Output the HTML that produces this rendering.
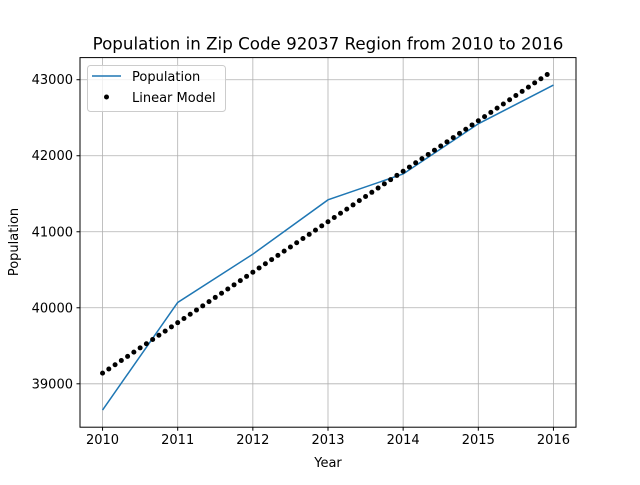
<!DOCTYPE html>
<html><head><meta charset="utf-8"><style>
body{margin:0;background:#fff;}
svg text{font-family:"DejaVu Sans","Liberation Sans",sans-serif;}
</style></head><body>
<svg id="chart" width="640" height="480" xmlns="http://www.w3.org/2000/svg">
<rect width="640" height="480" fill="#fff"/>
<g id="grid"></g>
<g id="marks"></g>
<rect x="80" y="57.6" width="496" height="369.6" fill="none" stroke="#000" stroke-width="1"/>
<g id="ticks"></g>
<text x="328" y="49.5" text-anchor="middle" font-size="16.7">Population in Zip Code 92037 Region from 2010 to 2016</text>
<text x="328" y="467" text-anchor="middle" font-size="13">Year</text>
<text x="18" y="242" text-anchor="middle" font-size="13" transform="rotate(-90 18 242)">Population</text>
<g>
<rect x="87.5" y="65.5" width="138" height="46" rx="3" fill="#fff" fill-opacity="0.8" stroke="#ccc"/>
<line x1="92" y1="76" x2="121" y2="76" stroke="#1f77b4" stroke-width="1.5"/>
<text x="132" y="81" font-size="13">Population</text>
<circle cx="106.5" cy="97" r="2.5" fill="#000"/>
<text x="132" y="102" font-size="13">Linear Model</text>
</g>
</svg>
<script>
const years=[2010,2011,2012,2013,2014,2015,2016];
const population=[38655,40070,40705,41420,41760,42420,42930];
const modelValues=[39140,39195,39251,39306,39361,39417,39472,39527,39583,39638,39693,39749,
39804,39859,39915,39970,40025,40081,40136,40191,40247,40302,40357,40413,
40468,40523,40579,40634,40689,40745,40800,40855,40911,40966,41021,41077,
41132,41187,41243,41298,41353,41409,41464,41519,41575,41630,41685,41741,
41796,41851,41907,41962,42017,42073,42128,42183,42239,42294,42349,42405,
42460,42515,42571,42626,42681,42737,42792,42847,42903,42958,43013,43069];
const xTicks=[2010,2011,2012,2013,2014,2015,2016];
const yTicks=[39000,40000,41000,42000,43000];
const X0=80,X1=576,Y0=427.2,Y1=57.6,xmin=2009.7,xmax=2016.3,ymin=38429,ymax=43291;
const sx=v=>X0+(v-xmin)/(xmax-xmin)*(X1-X0);
const sy=v=>Y0-(v-ymin)/(ymax-ymin)*(Y0-Y1);
const NS="http://www.w3.org/2000/svg";
function mk(p,t,a){const e=document.createElementNS(NS,t);for(const k in a)e.setAttribute(k,a[k]);p.appendChild(e);return e;}
const grid=document.getElementById('grid'),ticks=document.getElementById('ticks'),marks=document.getElementById('marks');
xTicks.forEach(t=>{const x=sx(t);
 const g=mk(grid,'line',{x1:x,x2:x,y1:Y1,y2:Y0,stroke:'#b0b0b0','stroke-width':0.8});
 
 
 mk(ticks,'line',{x1:x,x2:x,y1:Y0,y2:Y0+3.5,stroke:'#000'});
 const tx=mk(ticks,'text',{x:x,y:Y0+17,'text-anchor':'middle','font-size':13});tx.textContent=t;
 
 
});
yTicks.forEach(t=>{const y=sy(t);
 const g=mk(grid,'line',{x1:X0,x2:X1,y1:y,y2:y,stroke:'#b0b0b0','stroke-width':0.8});
 
 
 mk(ticks,'line',{x1:X0-3.5,x2:X0,y1:y,y2:y,stroke:'#000'});
 const tx=mk(ticks,'text',{x:X0-7,y:y+4.5,'text-anchor':'end','font-size':13});tx.textContent=t;
 
 
});
const pl=mk(marks,'polyline',{points:years.map((y,i)=>sx(y)+','+sy(population[i])).join(' '),fill:'none',stroke:'#1f77b4','stroke-width':1.5});


modelValues.forEach((v,i)=>{
 const c=mk(marks,'circle',{cx:sx(years[0]+i/12),cy:sy(v),r:2.5,fill:'#000'});
 
 
});
</script>
</body></html>
